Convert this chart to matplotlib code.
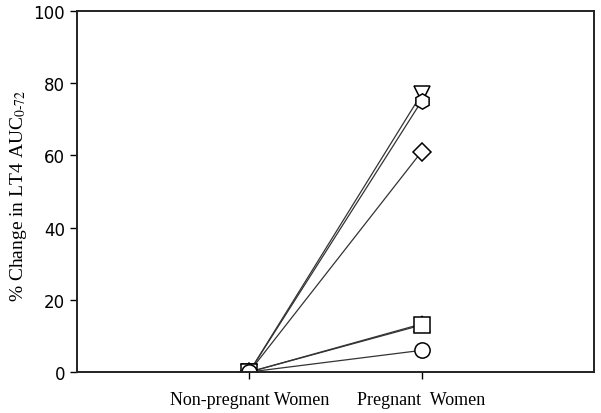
import matplotlib.pyplot as plt
import numpy as np

plt.rcParams['font.family'] = 'serif'
plt.rcParams['font.serif'] = ['Liberation Serif', 'DejaVu Serif']
plt.rcParams['mathtext.fontset'] = 'stix'

# groups on the x axis
groups = ['Non-pregnant Women', 'Pregnant  Women']
# % change per subject: non-pregnant (baseline) and pregnant
subjects = ['s1', 's2', 's3', 's4', 's5', 's6']
markers = ['v', 'h', 'D', '^', 's', 'o']
nonpreg = [0, 0, 0, 0, 0, 0]
preg = [77.0, 75.0, 61.0, 13.3, 13.0, 6.0]
yticks = [0, 20, 40, 60, 80, 100]

fig = plt.figure(figsize=(6.01, 4.14), dpi=100)
ax = fig.add_axes([0.128, 0.099, 0.86, 0.872])

x = np.array([1, 2])
for m, a, b in zip(markers, nonpreg, preg):
    ms = 9 if m == 'D' else 11
    if m in ('^', 'v'):
        ms = 12
    ax.plot(x, [a, b], color='#333333', linewidth=0.9,
            marker=m, markersize=ms, markerfacecolor='white',
            markeredgecolor='black', markeredgewidth=1.1)

ax.set_xlim(0, 3)
ax.set_ylim(0, 100)
ax.set_xticks(x)
ax.set_xticklabels(groups, fontsize=13)
ax.set_yticks(yticks)
ax.set_yticklabels([str(t) for t in yticks], fontsize=12, family='DejaVu Sans')
ax.set_ylabel(r'% Change in LT4 AUC$_{\mathrm{0\text{-}72}}$', fontsize=14)
ax.yaxis.set_label_coords(-0.093, 0.49)
ax.tick_params(direction='out', length=5, width=1, top=False, right=False)
ax.tick_params(axis='x', pad=9)

for s in ax.spines.values():
    s.set_linewidth(1.4)
    s.set_color('#222222')

plt.savefig('out.png', dpi=100)
